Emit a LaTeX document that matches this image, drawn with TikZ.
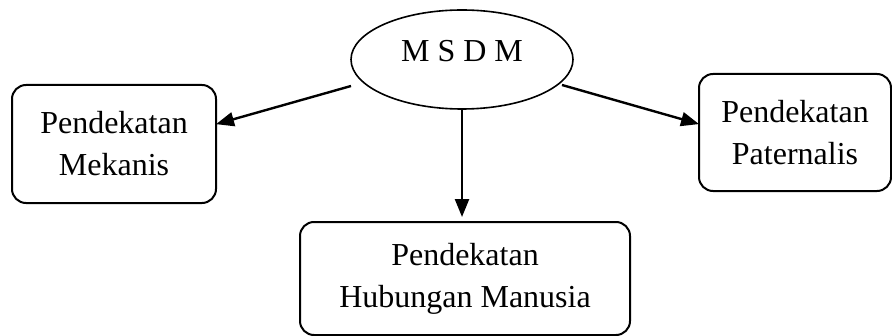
\documentclass[tikz,border=0pt]{standalone}
\usepackage{fontspec}
\setmainfont{Liberation Serif}
\usetikzlibrary{arrows.meta,shapes.geometric}
\begin{document}
\begin{tikzpicture}[x=0.5pt,y=-0.5pt,
  txt/.style={font=\fontsize{16pt}{21pt}\selectfont},
  box/.style={txt,draw,line width=1pt,rounded corners=7pt,align=center,inner sep=0pt,outer sep=0pt},
  oval/.style={txt,draw,ellipse,line width=0.8pt,inner sep=0pt,outer sep=0pt,text height=11pt,text depth=8.5pt},
  arr/.style={line width=1.2pt,-{Triangle[length=9pt,width=7pt]}}]
\useasboundingbox (0,0) rectangle (892,336);
\node[oval,minimum width=111pt,minimum height=49.5pt] (m) at (462,59.5) {M S D M};
\node[box,minimum width=102pt,minimum height=59pt] (l) at (114,144) {Pendekatan\\Mekanis};
\node[box,minimum width=96pt,minimum height=58.5pt] (r) at (795,132.5) {Pendekatan\\Paternalis};
\node[box,minimum width=165pt,minimum height=56.5pt] (b) at (465,278.5) {Pendekatan\\Hubungan Manusia};
\coordinate (ls) at (351,86);
\coordinate (rs) at (562,85);
\draw[arr] (ls) -- (l.11.5);
\draw[arr] (rs) -- (r.175.6);
\draw[arr,shorten >=2.5pt] (m.south) -- (m.south |- b.north);
\end{tikzpicture}
\end{document}
